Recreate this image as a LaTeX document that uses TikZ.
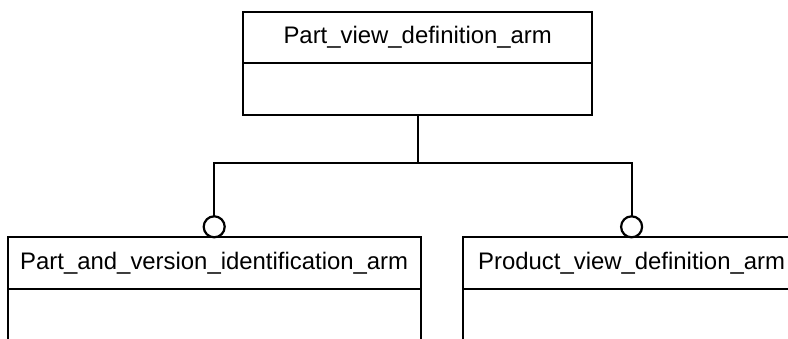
\documentclass[tikz,border=0pt]{standalone}
\usepackage{fontspec}
\setmainfont{Liberation Sans}
\begin{document}
\begin{tikzpicture}[x=1bp,y=-1bp,
  box/.style={draw=black, line width=2.2bp, rectangle, inner sep=0pt, outer sep=0pt},
  hdr/.style={box, font=\fontsize{23.9bp}{28bp}\selectfont},
  ring/.style={draw=black, line width=2.2bp, circle, inner sep=0pt, outer sep=0pt, minimum size=21bp, fill=white},
  link/.style={draw=black, line width=2.2bp}]
\useasboundingbox (0,0) rectangle (788,338);
\clip (0,0) rectangle (788,338);
% top entity
\node[hdr, minimum width=349bp, minimum height=51bp] (toph) at (417.7,37.3) {Part\_view\_definition\_arm};
\node[box, minimum width=349bp, minimum height=52bp, anchor=north] (topb) at (toph.south) {};
% left entity
\node[hdr, minimum width=413bp, minimum height=52bp] (lefth) at (214.2,263.3) {Part\_and\_version\_identification\_arm};
\node[box, minimum width=413bp, minimum height=80bp, anchor=north] (leftb) at (lefth.south) {};
% right entity
\node[hdr, minimum width=336.6bp, minimum height=52bp] (righth) at (631.6,263.3) {Product\_view\_definition\_arm};
\node[box, minimum width=336.6bp, minimum height=80bp, anchor=north] (rightb) at (righth.south) {};
% connectors
\node[ring, anchor=south] (lc) at (lefth.north) {};
\node[ring, anchor=south] (rc) at (righth.north) {};
\draw[link] (topb.south) -- ++(0,48) coordinate (mid);
\draw[link] (lc.north) |- (mid) -| (rc.north);
\end{tikzpicture}
\end{document}
